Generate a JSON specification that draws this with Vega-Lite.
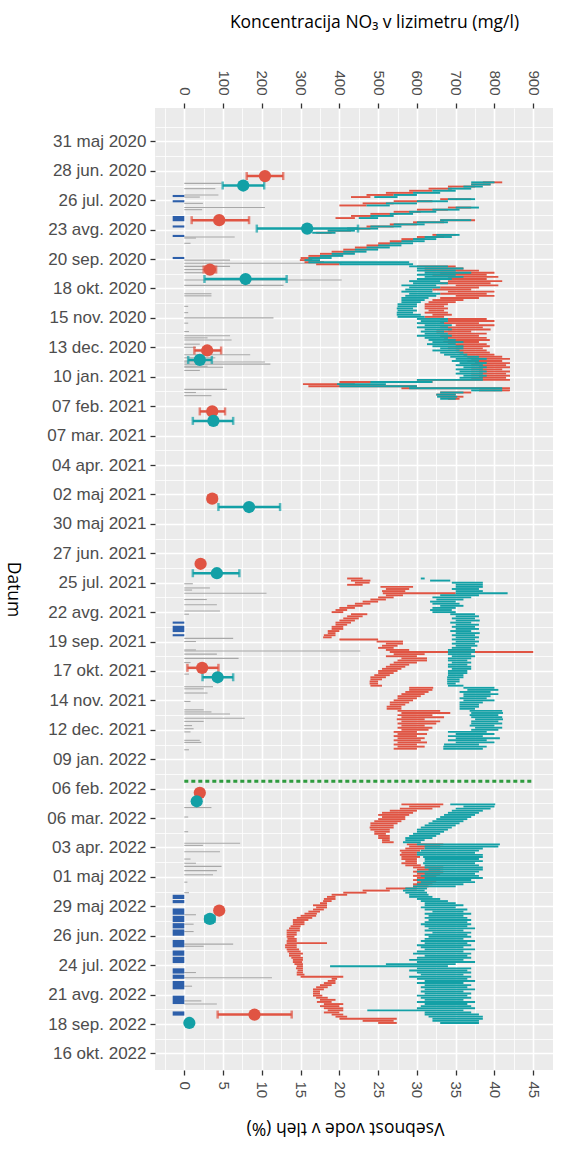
{
"$schema": "https://vega.github.io/schema/vega-lite/v6.json",
"width": 398, "height": 962,
"autosize": {"type": "none"},
"padding": {"left": 155, "top": 108, "right": 8, "bottom": 85},
"background": "#FFFFFF",
"config": {"view": {"fill": "#EBEBEB", "stroke": null}, "font": "Liberation Sans",
 "locale": {"time": {"dateTime": "%A, %e. %B %Y %X", "date": "%d.%m.%Y", "time": "%H:%M:%S", "periods": ["AM", "PM"],
  "days": ["nedelja", "ponedeljek", "torek", "sreda", "četrtek", "petek", "sobota"],
  "shortDays": ["ned.", "pon.", "tor.", "sre.", "čet.", "pet.", "sob."],
  "months": ["januar", "februar", "marec", "april", "maj", "junij", "julij", "avgust", "september", "oktober", "november", "december"],
  "shortMonths": ["jan.", "feb.", "mar.", "apr.", "maj", "jun.", "jul.", "avg.", "sep.", "okt.", "nov.", "dec."]}}},
"datasets": {
"lines": [
{"d":"2020-07-09","rl":38.5,"rh":41,"tl":37,"th":40},
{"d":"2020-07-11","rl":37,"rh":39.5,"tl":37,"th":39.5},
{"d":"2020-07-13","rl":34,"rh":37.5,"tl":36,"th":38.5},
{"d":"2020-07-15","rl":31.5,"rh":34.5,"tl":34,"th":37},
{"d":"2020-07-17","rl":29,"rh":32,"tl":32,"th":35},
{"d":"2020-07-19","rl":26,"rh":29.5,"tl":29.5,"th":33},
{"d":"2020-07-21","rl":23.5,"rh":27,"tl":27,"th":30},
{"d":"2020-07-23","rl":21.5,"rh":24,"tl":24.5,"th":27.5},
{"d":"2020-07-25","rl":33,"rh":37,"tl":34,"th":37.5},
{"d":"2020-07-27","rl":27,"rh":32,"tl":30,"th":34},
{"d":"2020-07-29","rl":23,"rh":27,"tl":26,"th":30},
{"d":"2020-07-31","rl":20,"rh":23.5,"tl":23.5,"th":26.5},
{"d":"2020-08-02","rl":34,"rh":37,"tl":35,"th":38},
{"d":"2020-08-04","rl":30,"rh":34,"tl":32,"th":35.5},
{"d":"2020-08-06","rl":27,"rh":30.5,"tl":29,"th":32.5},
{"d":"2020-08-08","rl":24,"rh":27.5,"tl":26.5,"th":29.5},
{"d":"2020-08-10","rl":21.5,"rh":24.5,"tl":24,"th":27},
{"d":"2020-08-12","rl":19.5,"rh":22,"tl":22.5,"th":25},
{"d":"2020-08-14","rl":33,"rh":37.5,"tl":33,"th":37},
{"d":"2020-08-16","rl":29.5,"rh":33.5,"tl":30,"th":34},
{"d":"2020-08-18","rl":26.5,"rh":30,"tl":27,"th":31},
{"d":"2020-08-20","rl":23.5,"rh":27,"tl":24,"th":28},
{"d":"2020-08-22","rl":21,"rh":24,"tl":21,"th":25},
{"d":"2020-08-24","rl":18.5,"rh":21.5,"tl":18.5,"th":22},
{"d":"2020-08-26","rl":17,"rh":19,"tl":16.5,"th":19.5},
{"d":"2020-08-28","rl":32,"rh":35,"tl":32.5,"th":35.5},
{"d":"2020-08-30","rl":30,"rh":33.5,"tl":31,"th":34.5},
{"d":"2020-09-01","rl":28,"rh":31,"tl":29.5,"th":32.5},
{"d":"2020-09-03","rl":26.5,"rh":29.5,"tl":28,"th":31},
{"d":"2020-09-05","rl":25,"rh":28,"tl":26.5,"th":29.5},
{"d":"2020-09-07","rl":23.5,"rh":26.5,"tl":25,"th":28},
{"d":"2020-09-09","rl":22,"rh":25,"tl":23.5,"th":26.5},
{"d":"2020-09-11","rl":20.5,"rh":23.5,"tl":22,"th":25},
{"d":"2020-09-13","rl":19,"rh":22,"tl":20.5,"th":23.5},
{"d":"2020-09-15","rl":17.5,"rh":20.5,"tl":19,"th":22},
{"d":"2020-09-17","rl":16,"rh":19,"tl":17.5,"th":20.5},
{"d":"2020-09-19","rl":15,"rh":17.5,"tl":16,"th":19},
{"d":"2020-09-21","rl":14.9,"rh":16.5,"tl":15.5,"th":17.5},
{"d":"2020-09-23","rl":15.5,"rh":18,"tl":16,"th":29},
{"d":"2020-09-25","rl":17,"rh":20,"tl":20,"th":29.5},
{"d":"2020-09-27","rl":30,"rh":35,"tl":29,"th":34},
{"d":"2020-09-29","rl":31,"rh":36,"tl":30,"th":36},
{"d":"2020-10-01","rl":31,"rh":38,"tl":30,"th":35},
{"d":"2020-10-03","rl":33,"rh":40,"tl":31,"th":37},
{"d":"2020-10-05","rl":32,"rh":39,"tl":30,"th":35},
{"d":"2020-10-07","rl":34,"rh":40.5,"tl":31,"th":36},
{"d":"2020-10-09","rl":33,"rh":39,"tl":30,"th":34.5},
{"d":"2020-10-11","rl":34,"rh":41,"tl":29,"th":33},
{"d":"2020-10-13","rl":33,"rh":39.5,"tl":29.5,"th":34},
{"d":"2020-10-15","rl":35,"rh":40.5,"tl":28,"th":32.5},
{"d":"2020-10-17","rl":33,"rh":38,"tl":29,"th":33},
{"d":"2020-10-19","rl":32,"rh":37,"tl":28.5,"th":32},
{"d":"2020-10-21","rl":34,"rh":40,"tl":28,"th":32},
{"d":"2020-10-23","rl":33,"rh":39,"tl":29,"th":33},
{"d":"2020-10-25","rl":35,"rh":40,"tl":28.5,"th":32.5},
{"d":"2020-10-27","rl":33,"rh":38,"tl":28,"th":31.5},
{"d":"2020-10-29","rl":32,"rh":36,"tl":28,"th":31},
{"d":"2020-10-31","rl":31.5,"rh":35,"tl":28,"th":30.5},
{"d":"2020-11-02","rl":31,"rh":34,"tl":27.5,"th":30},
{"d":"2020-11-04","rl":31,"rh":33.5,"tl":27.5,"th":30},
{"d":"2020-11-06","rl":31,"rh":34,"tl":27.4,"th":29.5},
{"d":"2020-11-08","rl":31.5,"rh":33.5,"tl":27.5,"th":30},
{"d":"2020-11-10","rl":31,"rh":34,"tl":27.4,"th":29.5},
{"d":"2020-11-12","rl":32,"rh":34.5,"tl":27.4,"th":30.5},
{"d":"2020-11-14","rl":31,"rh":33.5,"tl":27.5,"th":31},
{"d":"2020-11-16","rl":33,"rh":39,"tl":30,"th":34},
{"d":"2020-11-18","rl":34,"rh":40,"tl":30.5,"th":34},
{"d":"2020-11-20","rl":33,"rh":38,"tl":30,"th":33.5},
{"d":"2020-11-22","rl":35,"rh":40,"tl":31,"th":34.5},
{"d":"2020-11-24","rl":33,"rh":38.5,"tl":30,"th":34},
{"d":"2020-11-26","rl":34,"rh":39.5,"tl":31,"th":34.5},
{"d":"2020-11-28","rl":32.5,"rh":37,"tl":30.5,"th":33.5},
{"d":"2020-11-30","rl":34,"rh":39,"tl":31,"th":34},
{"d":"2020-12-02","rl":33,"rh":38,"tl":30,"th":34.5},
{"d":"2020-12-04","rl":33.5,"rh":39,"tl":31,"th":34},
{"d":"2020-12-06","rl":34,"rh":39.4,"tl":31.5,"th":35},
{"d":"2020-12-08","rl":33.4,"rh":38,"tl":32,"th":36},
{"d":"2020-12-10","rl":34,"rh":39,"tl":31.3,"th":35},
{"d":"2020-12-12","rl":35,"rh":39.4,"tl":32,"th":36},
{"d":"2020-12-14","rl":34,"rh":38.5,"tl":33,"th":36},
{"d":"2020-12-16","rl":35,"rh":39,"tl":32,"th":35.5},
{"d":"2020-12-18","rl":35.5,"rh":39.4,"tl":33,"th":36},
{"d":"2020-12-20","rl":36,"rh":40,"tl":33.5,"th":36.5},
{"d":"2020-12-22","rl":36.5,"rh":41,"tl":34.3,"th":38},
{"d":"2020-12-24","rl":37,"rh":42,"tl":35,"th":39},
{"d":"2020-12-26","rl":36.5,"rh":41,"tl":34.5,"th":38},
{"d":"2020-12-28","rl":37.5,"rh":42,"tl":35.5,"th":39},
{"d":"2020-12-30","rl":37,"rh":41.5,"tl":35,"th":38.5},
{"d":"2021-01-01","rl":38,"rh":42,"tl":36,"th":39},
{"d":"2021-01-03","rl":37,"rh":41,"tl":35,"th":38.5},
{"d":"2021-01-05","rl":38,"rh":42,"tl":35.5,"th":39},
{"d":"2021-01-07","rl":37,"rh":41.5,"tl":35,"th":38.5},
{"d":"2021-01-09","rl":38,"rh":42,"tl":36,"th":39},
{"d":"2021-01-11","rl":37,"rh":41.5,"tl":35.5,"th":38.5},
{"d":"2021-01-13","rl":30,"rh":42,"tl":30,"th":38.5},
{"d":"2021-01-15","rl":20,"rh":32,"tl":24,"th":32},
{"d":"2021-01-17","rl":15.3,"rh":22,"tl":19.7,"th":26},
{"d":"2021-01-19","rl":16,"rh":30,"tl":20,"th":30},
{"d":"2021-01-21","rl":28,"rh":42,"tl":29,"th":41},
{"d":"2021-01-23","rl":38,"rh":42,"tl":37,"th":41},
{"d":"2021-01-25","rl":33,"rh":37,"tl":33,"th":36},
{"d":"2021-01-27","rl":32.5,"rh":35,"tl":32.5,"th":35},
{"d":"2021-01-29","rl":33,"rh":36,"tl":32.6,"th":35.2},
{"d":"2021-01-31","rl":34,"rh":35.5,"tl":33,"th":35},
{"d":"2021-07-21","rl":21,"rh":23,"tl":30.5,"th":31},
{"d":"2021-07-23","rl":21.5,"rh":24,"tl":31.7,"th":34.3},
{"d":"2021-07-25","rl":22,"rh":23.9,"tl":34.5,"th":38.5},
{"d":"2021-07-27","rl":21,"rh":23,"tl":35,"th":38.5},
{"d":"2021-07-29","rl":25.3,"rh":29.5,"tl":35,"th":38.5},
{"d":"2021-07-31","rl":26,"rh":29,"tl":34.5,"th":38},
{"d":"2021-08-02","rl":25.5,"rh":28.5,"tl":35,"th":38.5},
{"d":"2021-08-04","rl":25.6,"rh":35,"tl":35,"th":41.7},
{"d":"2021-08-06","rl":26,"rh":28.2,"tl":33,"th":38},
{"d":"2021-08-08","rl":25,"rh":27,"tl":32,"th":37},
{"d":"2021-08-10","rl":24,"rh":26,"tl":32.5,"th":36},
{"d":"2021-08-12","rl":23,"rh":25,"tl":31.7,"th":35},
{"d":"2021-08-14","rl":22,"rh":24,"tl":32,"th":35.5},
{"d":"2021-08-16","rl":21,"rh":23,"tl":33,"th":36},
{"d":"2021-08-18","rl":20,"rh":22,"tl":32,"th":35},
{"d":"2021-08-20","rl":19.5,"rh":21,"tl":31.7,"th":34.5},
{"d":"2021-08-22","rl":19,"rh":20.5,"tl":32,"th":35},
{"d":"2021-08-24","rl":21.5,"rh":23.6,"tl":34.3,"th":37.5},
{"d":"2021-08-26","rl":21,"rh":23,"tl":35,"th":38},
{"d":"2021-08-28","rl":20.5,"rh":22.5,"tl":34.5,"th":37.5},
{"d":"2021-08-30","rl":20,"rh":22,"tl":35,"th":38.1},
{"d":"2021-09-01","rl":19.5,"rh":21.5,"tl":34.3,"th":37},
{"d":"2021-09-03","rl":19.5,"rh":21,"tl":35,"th":38},
{"d":"2021-09-05","rl":19,"rh":20.5,"tl":34.5,"th":37.5},
{"d":"2021-09-07","rl":19,"rh":20.5,"tl":35,"th":38},
{"d":"2021-09-09","rl":18.5,"rh":20,"tl":34.3,"th":37},
{"d":"2021-09-11","rl":18.5,"rh":19.5,"tl":35,"th":38.1},
{"d":"2021-09-13","rl":18,"rh":19.5,"tl":34.5,"th":37.5},
{"d":"2021-09-15","rl":17.9,"rh":19,"tl":35,"th":38},
{"d":"2021-09-17","rl":20,"rh":25,"tl":34.5,"th":37.5},
{"d":"2021-09-19","rl":24.8,"rh":28.2,"tl":35,"th":38},
{"d":"2021-09-21","rl":26,"rh":28.2,"tl":34.5,"th":37.5},
{"d":"2021-09-23","rl":25.5,"rh":27.5,"tl":35,"th":37.8},
{"d":"2021-09-25","rl":25,"rh":27,"tl":34.5,"th":37},
{"d":"2021-09-27","rl":26,"rh":29,"tl":34,"th":37.5},
{"d":"2021-09-29","rl":26.5,"rh":45,"tl":34,"th":37.5},
{"d":"2021-10-01","rl":27,"rh":31,"tl":34,"th":37},
{"d":"2021-10-03","rl":26,"rh":30,"tl":34.5,"th":37.5},
{"d":"2021-10-05","rl":28,"rh":31.3,"tl":34,"th":37},
{"d":"2021-10-07","rl":27.5,"rh":31.3,"tl":34,"th":36.5},
{"d":"2021-10-09","rl":27,"rh":30,"tl":34.5,"th":37},
{"d":"2021-10-11","rl":26.5,"rh":29,"tl":34,"th":36.5},
{"d":"2021-10-13","rl":26,"rh":28.5,"tl":34,"th":37},
{"d":"2021-10-15","rl":25.5,"rh":28,"tl":34.5,"th":37},
{"d":"2021-10-17","rl":25,"rh":27.5,"tl":34,"th":36.5},
{"d":"2021-10-19","rl":25,"rh":27,"tl":34,"th":36.5},
{"d":"2021-10-21","rl":24.5,"rh":26.5,"tl":34,"th":36},
{"d":"2021-10-23","rl":24,"rh":26,"tl":33.9,"th":36},
{"d":"2021-10-25","rl":24,"rh":25.5,"tl":33.9,"th":35.5},
{"d":"2021-10-27","rl":23.9,"rh":25,"tl":33.9,"th":35.5},
{"d":"2021-10-29","rl":23.9,"rh":25,"tl":33.9,"th":35},
{"d":"2021-10-31","rl":24,"rh":25.5,"tl":34,"th":36},
{"d":"2021-11-02","rl":29,"rh":32.1,"tl":36,"th":40},
{"d":"2021-11-04","rl":29,"rh":32,"tl":36.5,"th":40.5},
{"d":"2021-11-06","rl":28.5,"rh":31.5,"tl":35.5,"th":39.5},
{"d":"2021-11-08","rl":28,"rh":31,"tl":36,"th":40.5},
{"d":"2021-11-10","rl":27.5,"rh":30.5,"tl":36,"th":39.5},
{"d":"2021-11-12","rl":27.5,"rh":30,"tl":35.5,"th":39},
{"d":"2021-11-14","rl":27,"rh":29.5,"tl":36,"th":40},
{"d":"2021-11-16","rl":26.5,"rh":29,"tl":35.5,"th":38.5},
{"d":"2021-11-18","rl":26.5,"rh":28.5,"tl":35.5,"th":38},
{"d":"2021-11-20","rl":26.1,"rh":28,"tl":35.5,"th":38},
{"d":"2021-11-22","rl":26.1,"rh":28,"tl":35.5,"th":37.5},
{"d":"2021-11-24","rl":27.5,"rh":33,"tl":36.8,"th":41},
{"d":"2021-11-26","rl":28,"rh":34.3,"tl":37,"th":41.1},
{"d":"2021-11-28","rl":27.5,"rh":32,"tl":36.8,"th":40.5},
{"d":"2021-11-30","rl":28,"rh":33.5,"tl":37,"th":41},
{"d":"2021-12-02","rl":27.4,"rh":31,"tl":37.5,"th":41.1},
{"d":"2021-12-04","rl":28,"rh":33,"tl":37,"th":40.5},
{"d":"2021-12-06","rl":27.5,"rh":32.5,"tl":37,"th":41},
{"d":"2021-12-08","rl":28,"rh":31,"tl":36.8,"th":40},
{"d":"2021-12-10","rl":27.5,"rh":32,"tl":37.5,"th":41},
{"d":"2021-12-12","rl":28,"rh":31.5,"tl":37,"th":40.5},
{"d":"2021-12-14","rl":27,"rh":30,"tl":34,"th":39},
{"d":"2021-12-16","rl":27.5,"rh":31.3,"tl":35,"th":40},
{"d":"2021-12-18","rl":27,"rh":30,"tl":34,"th":38.5},
{"d":"2021-12-20","rl":27.5,"rh":31,"tl":35,"th":40.7},
{"d":"2021-12-22","rl":27,"rh":30.5,"tl":34,"th":39},
{"d":"2021-12-24","rl":27.5,"rh":31.3,"tl":35,"th":40},
{"d":"2021-12-26","rl":27,"rh":30,"tl":33.5,"th":38},
{"d":"2021-12-28","rl":27.5,"rh":31,"tl":33.4,"th":39},
{"d":"2021-12-30","rl":27,"rh":30,"tl":33.4,"th":38.5},
{"d":"2022-02-21","rl":28,"rh":33.4,"tl":34.3,"th":40.1},
{"d":"2022-02-23","rl":29,"rh":33,"tl":36,"th":40},
{"d":"2022-02-25","rl":27.8,"rh":32,"tl":35,"th":39.5},
{"d":"2022-02-27","rl":26.5,"rh":30,"tl":34.5,"th":38.5},
{"d":"2022-03-01","rl":25.5,"rh":29.5,"tl":34,"th":38},
{"d":"2022-03-03","rl":25,"rh":29,"tl":33.5,"th":37.5},
{"d":"2022-03-05","rl":25.5,"rh":28.5,"tl":33,"th":37},
{"d":"2022-03-07","rl":25,"rh":28.5,"tl":32.5,"th":36.5},
{"d":"2022-03-09","rl":24.5,"rh":28,"tl":32,"th":36},
{"d":"2022-03-11","rl":24,"rh":27.5,"tl":31.5,"th":35.5},
{"d":"2022-03-13","rl":24,"rh":27,"tl":31,"th":35},
{"d":"2022-03-15","rl":23.9,"rh":27,"tl":30.5,"th":34.5},
{"d":"2022-03-17","rl":24,"rh":26.5,"tl":30,"th":34},
{"d":"2022-03-19","rl":24.5,"rh":26.5,"tl":30,"th":33.5},
{"d":"2022-03-21","rl":24.5,"rh":26,"tl":29.5,"th":33},
{"d":"2022-03-23","rl":25,"rh":26.5,"tl":29,"th":32.5},
{"d":"2022-03-25","rl":25,"rh":26.5,"tl":28.5,"th":32},
{"d":"2022-03-27","rl":25.5,"rh":26.5,"tl":28.5,"th":31},
{"d":"2022-03-29","rl":25.5,"rh":27,"tl":28.2,"th":30.5},
{"d":"2022-03-31","rl":28.7,"rh":33.4,"tl":30,"th":40.7},
{"d":"2022-04-02","rl":29,"rh":33,"tl":31,"th":40.5},
{"d":"2022-04-04","rl":28.5,"rh":31,"tl":31,"th":38.5},
{"d":"2022-04-06","rl":27.8,"rh":30.4,"tl":30.5,"th":38},
{"d":"2022-04-08","rl":28,"rh":30,"tl":30,"th":37.5},
{"d":"2022-04-10","rl":27.8,"rh":30,"tl":30,"th":38.5},
{"d":"2022-04-12","rl":28,"rh":30.4,"tl":30.8,"th":38.5},
{"d":"2022-04-14","rl":28,"rh":30,"tl":31,"th":38},
{"d":"2022-04-16","rl":28.5,"rh":30,"tl":31,"th":38.5},
{"d":"2022-04-18","rl":28,"rh":30,"tl":30.8,"th":37.5},
{"d":"2022-04-20","rl":28.5,"rh":30.5,"tl":31,"th":38},
{"d":"2022-04-22","rl":29.5,"rh":33.4,"tl":31,"th":38.5},
{"d":"2022-04-24","rl":30,"rh":33,"tl":31.5,"th":38.5},
{"d":"2022-04-26","rl":29.5,"rh":33.4,"tl":30,"th":38},
{"d":"2022-04-28","rl":30,"rh":33,"tl":31,"th":37.5},
{"d":"2022-04-30","rl":29.5,"rh":32.5,"tl":30.5,"th":38},
{"d":"2022-05-02","rl":30,"rh":33.4,"tl":31,"th":38.5},
{"d":"2022-05-04","rl":29.5,"rh":33,"tl":30,"th":37},
{"d":"2022-05-06","rl":30,"rh":32.5,"tl":30.5,"th":37.5},
{"d":"2022-05-08","rl":29.5,"rh":32,"tl":30,"th":36},
{"d":"2022-05-10","rl":29.5,"rh":31.5,"tl":29.5,"th":35},
{"d":"2022-05-12","rl":26,"rh":30,"tl":28.5,"th":31.3},
{"d":"2022-05-14","rl":23,"rh":26.5,"tl":28.2,"th":31},
{"d":"2022-05-16","rl":20.5,"rh":23.5,"tl":28.5,"th":31.3},
{"d":"2022-05-18","rl":19,"rh":21,"tl":29,"th":31.5},
{"d":"2022-05-20","rl":18.4,"rh":19.5,"tl":29,"th":32},
{"d":"2022-05-22","rl":18,"rh":19.5,"tl":30,"th":33},
{"d":"2022-05-24","rl":17.9,"rh":19,"tl":30.5,"th":34},
{"d":"2022-05-26","rl":17.5,"rh":18.4,"tl":31,"th":35},
{"d":"2022-05-28","rl":16.6,"rh":18.4,"tl":31,"th":36},
{"d":"2022-05-30","rl":17,"rh":18.4,"tl":30.5,"th":35},
{"d":"2022-06-01","rl":16.6,"rh":18,"tl":31,"th":36.5},
{"d":"2022-06-03","rl":16,"rh":17.5,"tl":32,"th":36},
{"d":"2022-06-05","rl":15.5,"rh":17.1,"tl":31,"th":37},
{"d":"2022-06-07","rl":15,"rh":17,"tl":31.5,"th":36},
{"d":"2022-06-09","rl":14.5,"rh":16.5,"tl":31,"th":36.5},
{"d":"2022-06-11","rl":14,"rh":16,"tl":31.5,"th":37},
{"d":"2022-06-13","rl":14,"rh":15.5,"tl":31,"th":36.5},
{"d":"2022-06-15","rl":14,"rh":15.5,"tl":30.5,"th":37},
{"d":"2022-06-17","rl":13.7,"rh":15,"tl":31,"th":36.5},
{"d":"2022-06-19","rl":13.5,"rh":14.9,"tl":31.5,"th":37.5},
{"d":"2022-06-21","rl":13.2,"rh":14.9,"tl":31,"th":36},
{"d":"2022-06-23","rl":13.2,"rh":14.5,"tl":32,"th":37},
{"d":"2022-06-25","rl":13.2,"rh":14.5,"tl":31,"th":36.5},
{"d":"2022-06-27","rl":13.2,"rh":14.2,"tl":31.5,"th":37},
{"d":"2022-06-29","rl":13.3,"rh":14.5,"tl":31,"th":36},
{"d":"2022-07-01","rl":13.2,"rh":14.5,"tl":30.5,"th":37.5},
{"d":"2022-07-03","rl":13.2,"rh":18.4,"tl":31,"th":36.5},
{"d":"2022-07-05","rl":13,"rh":14.5,"tl":30,"th":37},
{"d":"2022-07-07","rl":13,"rh":14.5,"tl":30.5,"th":36},
{"d":"2022-07-09","rl":13.2,"rh":14.8,"tl":31,"th":37.5},
{"d":"2022-07-11","rl":13.3,"rh":15,"tl":30,"th":36},
{"d":"2022-07-13","rl":13.5,"rh":15.3,"tl":29.5,"th":37},
{"d":"2022-07-15","rl":13.5,"rh":15,"tl":31,"th":36.5},
{"d":"2022-07-17","rl":13.8,"rh":15.3,"tl":30,"th":37},
{"d":"2022-07-19","rl":14,"rh":15.3,"tl":29,"th":36},
{"d":"2022-07-21","rl":14,"rh":15.2,"tl":30,"th":37.5},
{"d":"2022-07-23","rl":14.2,"rh":15.3,"tl":26,"th":35},
{"d":"2022-07-25","rl":14.5,"rh":15.3,"tl":18.8,"th":34},
{"d":"2022-07-27","rl":14.4,"rh":15.3,"tl":30,"th":37},
{"d":"2022-07-29","rl":14.6,"rh":15.3,"tl":29,"th":36.5},
{"d":"2022-07-31","rl":14.5,"rh":15.3,"tl":30,"th":37},
{"d":"2022-08-02","rl":14.5,"rh":15.5,"tl":30.5,"th":36},
{"d":"2022-08-04","rl":15,"rh":20.5,"tl":29,"th":37},
{"d":"2022-08-06","rl":19,"rh":19.7,"tl":30,"th":36.5},
{"d":"2022-08-08","rl":18.5,"rh":19.5,"tl":31,"th":37.5},
{"d":"2022-08-10","rl":18,"rh":19.5,"tl":30,"th":36},
{"d":"2022-08-12","rl":17.5,"rh":19,"tl":31,"th":37},
{"d":"2022-08-14","rl":17,"rh":18.5,"tl":30.5,"th":36.5},
{"d":"2022-08-16","rl":16.6,"rh":18,"tl":31,"th":37.5},
{"d":"2022-08-18","rl":16.6,"rh":17.5,"tl":30.5,"th":36},
{"d":"2022-08-20","rl":16.6,"rh":17.5,"tl":31,"th":37},
{"d":"2022-08-22","rl":16.6,"rh":17.8,"tl":30,"th":36.5},
{"d":"2022-08-24","rl":17,"rh":18.5,"tl":30.5,"th":37},
{"d":"2022-08-26","rl":17.5,"rh":19.5,"tl":31,"th":36},
{"d":"2022-08-28","rl":17.1,"rh":19,"tl":30,"th":37.5},
{"d":"2022-08-30","rl":18,"rh":20.5,"tl":31,"th":36.5},
{"d":"2022-09-01","rl":17.5,"rh":20,"tl":30.5,"th":37},
{"d":"2022-09-03","rl":18,"rh":20.5,"tl":30,"th":37.5},
{"d":"2022-09-05","rl":18.5,"rh":20.5,"tl":23.6,"th":36},
{"d":"2022-09-07","rl":18,"rh":20,"tl":31,"th":37},
{"d":"2022-09-09","rl":19,"rh":20.5,"tl":31,"th":38},
{"d":"2022-09-11","rl":19.5,"rh":21,"tl":31.5,"th":38.5},
{"d":"2022-09-13","rl":20,"rh":27.4,"tl":32,"th":38.5},
{"d":"2022-09-15","rl":23,"rh":27,"tl":32,"th":38},
{"d":"2022-09-17","rl":25,"rh":27.4,"tl":33,"th":38}
],
"rain": [
{"d":"2020-07-10","p":4.8},{"d":"2020-07-15","p":4.0},{"d":"2020-07-21","p":4.4},{"d":"2020-07-23","p":2.0},{"d":"2020-07-29","p":2.4},
{"d":"2020-08-02","p":10.4},{"d":"2020-08-04","p":2.3},{"d":"2020-08-30","p":6.5},{"d":"2020-08-31","p":1.5},{"d":"2020-09-05","p":0.8},
{"d":"2020-09-21","p":5.9},{"d":"2020-09-24","p":20.3},{"d":"2020-09-27","p":5.9},{"d":"2020-09-30","p":2.9},{"d":"2020-10-03","p":2.4},
{"d":"2020-10-10","p":20.3},{"d":"2020-10-15","p":12.8},{"d":"2020-10-23","p":3.5},{"d":"2020-10-25","p":3.5},{"d":"2020-11-04","p":0.5},
{"d":"2020-11-10","p":0.5},{"d":"2020-11-15","p":11.5},{"d":"2020-11-20","p":0.5},{"d":"2020-11-28","p":0.6},{"d":"2020-12-02","p":5.9},
{"d":"2020-12-04","p":3},{"d":"2020-12-06","p":6.1},{"d":"2020-12-10","p":2},{"d":"2020-12-13","p":1.5},{"d":"2020-12-20","p":8.5},
{"d":"2020-12-23","p":4},{"d":"2020-12-26","p":2.5},{"d":"2020-12-27","p":10.4},{"d":"2020-12-29","p":11.1},{"d":"2020-12-31","p":3},
{"d":"2021-01-01","p":5},{"d":"2021-01-04","p":2},{"d":"2021-01-22","p":5.5},{"d":"2021-01-25","p":1.5},{"d":"2021-01-28","p":3.5},
{"d":"2021-07-26","p":1.1},{"d":"2021-07-30","p":3.3},{"d":"2021-08-01","p":1.0},{"d":"2021-08-04","p":10.6},{"d":"2021-08-10","p":2.9},
{"d":"2021-08-15","p":4.2},{"d":"2021-08-21","p":4.6},{"d":"2021-08-24","p":0.6},{"d":"2021-09-16","p":6.3},{"d":"2021-09-19","p":1.5},
{"d":"2021-09-27","p":1.5},{"d":"2021-09-28","p":22.7},{"d":"2021-10-01","p":4.2},{"d":"2021-10-05","p":7.0},{"d":"2021-10-09","p":0.8},
{"d":"2021-10-20","p":0.6},{"d":"2021-11-01","p":3.7},{"d":"2021-11-03","p":2.5},{"d":"2021-11-07","p":3.0},{"d":"2021-11-15","p":0.8},
{"d":"2021-11-23","p":2.5},{"d":"2021-11-25","p":3.5},{"d":"2021-11-27","p":5.9},{"d":"2021-12-01","p":7.8},{"d":"2021-12-04","p":2.5},
{"d":"2021-12-08","p":1},{"d":"2021-12-11","p":1.2},{"d":"2021-12-14","p":0.8},{"d":"2021-12-22","p":2},{"d":"2021-12-24","p":2.2},
{"d":"2021-12-31","p":0.6},
{"d":"2022-02-24","p":3.5},{"d":"2022-03-05","p":0.5},{"d":"2022-03-19","p":0.5},{"d":"2022-03-30","p":7.2},{"d":"2022-04-01","p":2.4},
{"d":"2022-04-07","p":4.6},{"d":"2022-04-14","p":0.8},{"d":"2022-04-18","p":1.5},{"d":"2022-04-21","p":4.8},{"d":"2022-04-25","p":4.2},
{"d":"2022-04-29","p":3.7},{"d":"2022-05-06","p":0.4},{"d":"2022-05-16","p":0.6},{"d":"2022-06-06","p":1.5},{"d":"2022-06-15","p":1.2},
{"d":"2022-06-22","p":1.2},{"d":"2022-07-04","p":6.3},{"d":"2022-07-06","p":2.5},{"d":"2022-07-31","p":1.5},{"d":"2022-08-05","p":11.3},
{"d":"2022-08-13","p":1.0},{"d":"2022-08-27","p":2.2},{"d":"2022-08-30","p":4.2}
],
"irr": [
{"d":"2020-07-21","e":"2020-07-23"},{"d":"2020-07-26","e":"2020-07-28"},{"d":"2020-08-10","e":"2020-08-15"},
{"d":"2020-08-19","e":"2020-08-21"},{"d":"2020-08-28","e":"2020-08-30"},{"d":"2020-09-18","e":"2020-09-20"},
{"d":"2021-08-31","e":"2021-09-02"},{"d":"2021-09-04","e":"2021-09-10"},{"d":"2021-09-12","e":"2021-09-14"},
{"d":"2022-05-18","e":"2022-05-22"},{"d":"2022-05-23","e":"2022-05-26"},{"d":"2022-05-31","e":"2022-06-06"},
{"d":"2022-06-07","e":"2022-06-13"},{"d":"2022-06-14","e":"2022-06-19"},{"d":"2022-06-20","e":"2022-06-26"},
{"d":"2022-06-30","e":"2022-07-07"},{"d":"2022-07-10","e":"2022-07-15"},{"d":"2022-07-16","e":"2022-07-22"},
{"d":"2022-07-27","e":"2022-08-01"},{"d":"2022-08-02","e":"2022-08-06"},{"d":"2022-08-08","e":"2022-08-16"},
{"d":"2022-08-22","e":"2022-08-30"},{"d":"2022-09-06","e":"2022-09-10"}
],
"event": [{"d":"2022-01-30"}],
"no3": [
{"d":"2020-07-03","s":"R","c":208,"lo":161,"hi":255},
{"d":"2020-07-12","s":"T","c":152,"lo":99,"hi":206},
{"d":"2020-08-14","s":"R","c":90,"lo":19,"hi":167},
{"d":"2020-08-22","s":"T","c":317,"lo":187,"hi":448},
{"d":"2020-09-30","s":"R","c":66,"lo":50,"hi":82},
{"d":"2020-10-09","s":"T","c":158,"lo":52,"hi":264},
{"d":"2020-12-16","s":"R","c":59,"lo":26,"hi":95},
{"d":"2020-12-25","s":"T","c":40,"lo":10,"hi":71},
{"d":"2021-02-12","s":"R","c":72,"lo":40,"hi":105},
{"d":"2021-02-21","s":"T","c":75,"lo":22,"hi":126},
{"d":"2021-05-06","s":"R","c":72,"lo":62,"hi":82},
{"d":"2021-05-14","s":"T","c":167,"lo":88,"hi":247},
{"d":"2021-07-07","s":"R","c":42,"lo":36,"hi":48},
{"d":"2021-07-16","s":"T","c":84,"lo":22,"hi":142},
{"d":"2021-10-14","s":"R","c":46,"lo":8,"hi":88},
{"d":"2021-10-23","s":"T","c":86,"lo":47,"hi":126},
{"d":"2022-02-10","s":"R","c":40,"lo":34,"hi":46},
{"d":"2022-02-18","s":"T","c":32,"lo":26,"hi":38},
{"d":"2022-06-02","s":"R","c":90,"lo":84,"hi":96},
{"d":"2022-06-10","s":"T","c":66,"lo":54,"hi":78},
{"d":"2022-09-09","s":"R","c":181,"lo":86,"hi":277},
{"d":"2022-09-17","s":"T","c":13,"lo":8,"hi":18}
]
},
"layer": [
{
"layer": [
 {"data": {"name": "rain"},
  "mark": {"type": "bar", "orient": "horizontal", "size": 1.1, "color": "#A8A8A8"},
  "encoding": {
   "y": {"field": "d", "type": "temporal", "title": "Datum",
    "scale": {"type": "utc", "domain": [{"year": 2020, "month": 5, "date": 4, "utc": true}, {"year": 2022, "month": 10, "date": 27, "utc": true}], "reverse": true, "nice": false},
    "axis": {"orient": "left", "tickCount": 200,
     "values": [1590883200000,1593302400000,1595721600000,1598140800000,1600560000000,1602979200000,1605398400000,1607817600000,1610236800000,1612656000000,1615075200000,1617494400000,1619913600000,1622332800000,1624752000000,1627171200000,1629590400000,1632009600000,1634428800000,1636848000000,1639267200000,1641686400000,1644105600000,1646524800000,1648944000000,1651363200000,1653782400000,1656201600000,1658620800000,1661040000000,1663459200000,1665878400000],
     "format": "%d %b %Y",
     "labelOverlap": false,
     "labelFont": "Liberation Sans", "labelFontSize": 17, "labelColor": "#4D4D4D", "labelPadding": 4,
     "tickSize": 5, "tickWidth": 1.3, "tickColor": "#333333",
     "domain": false, "grid": true, "gridColor": "#FFFFFF", "gridWidth": 1.6,
     "titleFont": "Open Sans", "titleFontSize": 17.5, "titleFontWeight": "normal", "titleColor": "#000000",
     "titleAngle": 90, "titleX": -143, "titleY": 481, "titleAlign": "center", "titleBaseline": "middle"
    }},
   "x": {"field": "p", "type": "quantitative", "title": "Vsebnost vode v tleh (%)",
    "scale": {"domain": [-3.78, 47.55], "nice": false, "zero": false},
    "axis": {"orient": "bottom", "tickCount": 200,
     "values": [0,5,10,15,20,25,30,35,40,45], "format": "d",
     "labelOverlap": false,
     "labelAngle": 90, "labelAlign": "left", "labelBaseline": "middle",
     "labelFont": "Liberation Sans", "labelFontSize": 15, "labelColor": "#4D4D4D", "labelPadding": 6,
     "tickSize": 5, "tickWidth": 1.3, "tickColor": "#333333",
     "domain": false, "grid": true, "gridColor": "#FFFFFF", "gridWidth": 1.6,
     "titleFont": "Open Sans", "titleFontSize": 17.5, "titleFontWeight": "normal", "titleColor": "#000000",
     "titleAngle": 180, "titleX": 190, "titleY": 57, "titleAlign": "center", "titleBaseline": "middle"}}
  }},
 {"data": {"name": "irr"},
  "mark": {"type": "rect", "color": "#2D5FAA"},
  "encoding": {
   "y": {"field": "d", "type": "temporal", "title": "Datum", "scale": {"type": "utc", "domain": [{"year": 2020, "month": 5, "date": 4, "utc": true}, {"year": 2022, "month": 10, "date": 27, "utc": true}], "reverse": true, "nice": false}},
   "y2": {"field": "e"},
   "x": {"datum": -1.5, "type": "quantitative", "title": "Vsebnost vode v tleh (%)", "scale": {"domain": [-3.78, 47.55], "nice": false, "zero": false}},
   "x2": {"datum": 0}
  }},
 {"data": {"name": "lines"},
  "mark": {"type": "rule", "color": "#E05443", "strokeWidth": 1.9},
  "encoding": {
   "y": {"field": "d", "type": "temporal", "title": "Datum", "scale": {"type": "utc", "domain": [{"year": 2020, "month": 5, "date": 4, "utc": true}, {"year": 2022, "month": 10, "date": 27, "utc": true}], "reverse": true, "nice": false}},
   "x": {"field": "rl", "type": "quantitative", "title": "Vsebnost vode v tleh (%)", "scale": {"domain": [-3.78, 47.55], "nice": false, "zero": false}},
   "x2": {"field": "rh"}
  }},
 {"data": {"name": "lines"},
  "mark": {"type": "rule", "color": "#13A0A6", "strokeWidth": 1.9},
  "encoding": {
   "y": {"field": "d", "type": "temporal", "title": "Datum", "scale": {"type": "utc", "domain": [{"year": 2020, "month": 5, "date": 4, "utc": true}, {"year": 2022, "month": 10, "date": 27, "utc": true}], "reverse": true, "nice": false}},
   "x": {"field": "tl", "type": "quantitative", "title": "Vsebnost vode v tleh (%)", "scale": {"domain": [-3.78, 47.55], "nice": false, "zero": false}},
   "x2": {"field": "th"}
  }},
 {"data": {"name": "event"},
  "mark": {"type": "rule", "color": "#2E9B3E", "strokeWidth": 3, "strokeDash": [4, 3]},
  "encoding": {
   "y": {"field": "d", "type": "temporal", "title": "Datum", "scale": {"type": "utc", "domain": [{"year": 2020, "month": 5, "date": 4, "utc": true}, {"year": 2022, "month": 10, "date": 27, "utc": true}], "reverse": true, "nice": false}},
   "x": {"datum": 0, "type": "quantitative", "title": "Vsebnost vode v tleh (%)", "scale": {"domain": [-3.78, 47.55], "nice": false, "zero": false}},
   "x2": {"datum": 45}
  }}
]
},
{
"data": {"name": "no3"},
"layer": [
 {"mark": {"type": "rule", "strokeWidth": 2.5},
  "encoding": {
   "y": {"field": "d", "type": "temporal", "title": null,
    "scale": {"type": "utc", "domain": [{"year": 2020, "month": 5, "date": 4, "utc": true}, {"year": 2022, "month": 10, "date": 27, "utc": true}], "reverse": true, "nice": false},
    "axis": {"orient": "right", "tickCount": 200,
     "values": [1589673600000,1592092800000,1594512000000,1596931200000,1599350400000,1601769600000,1604188800000,1606608000000,1609027200000,1611446400000,1613865600000,1616284800000,1618704000000,1621123200000,1623542400000,1625961600000,1628380800000,1630800000000,1633219200000,1635638400000,1638057600000,1640476800000,1642896000000,1645315200000,1647734400000,1650153600000,1652572800000,1654992000000,1657411200000,1659830400000,1662249600000,1664668800000],
     "labels": false, "ticks": false, "domain": false, "grid": true, "gridColor": "#FFFFFF", "gridWidth": 0.8, "title": null}},
   "x": {"field": "lo", "type": "quantitative", "title": "Koncentracija NO₃ v lizimetru (mg/l)",
    "scale": {"domain": [-75.6, 951], "nice": false, "zero": false},
    "axis": {"orient": "top", "tickCount": 200, "values": [0,100,200,300,400,500,600,700,800,900], "format": "d",
     "labelOverlap": false,
     "labelAngle": 90, "labelAlign": "right", "labelBaseline": "middle",
     "labelFont": "Liberation Sans", "labelFontSize": 15, "labelColor": "#4D4D4D", "labelPadding": 8,
     "tickSize": 5, "tickWidth": 1.3, "tickColor": "#333333", "domain": false, "grid": false,
     "titleFont": "Open Sans", "titleFontSize": 17.5, "titleFontWeight": "normal", "titleColor": "#000000",
     "titleAngle": 0, "titleX": 219, "titleY": -86, "titleAlign": "center", "titleBaseline": "middle"}},
   "x2": {"field": "hi"},
   "color": {"field": "s", "type": "nominal", "scale": {"domain": ["R", "T"], "range": ["#E05443", "#13A0A6"]}, "legend": null}
  }},
 {"mark": {"type": "tick", "orient": "vertical", "size": 8, "thickness": 2.5},
  "encoding": {
   "y": {"field": "d", "type": "temporal", "title": null, "scale": {"type": "utc", "domain": [{"year": 2020, "month": 5, "date": 4, "utc": true}, {"year": 2022, "month": 10, "date": 27, "utc": true}], "reverse": true, "nice": false}},
   "x": {"field": "lo", "type": "quantitative", "title": "Koncentracija NO₃ v lizimetru (mg/l)", "scale": {"domain": [-75.6, 951], "nice": false, "zero": false}},
   "color": {"field": "s", "type": "nominal", "scale": {"domain": ["R", "T"], "range": ["#E05443", "#13A0A6"]}, "legend": null}
  }},
 {"mark": {"type": "tick", "orient": "vertical", "size": 8, "thickness": 2.5},
  "encoding": {
   "y": {"field": "d", "type": "temporal", "title": null, "scale": {"type": "utc", "domain": [{"year": 2020, "month": 5, "date": 4, "utc": true}, {"year": 2022, "month": 10, "date": 27, "utc": true}], "reverse": true, "nice": false}},
   "x": {"field": "hi", "type": "quantitative", "title": "Koncentracija NO₃ v lizimetru (mg/l)", "scale": {"domain": [-75.6, 951], "nice": false, "zero": false}},
   "color": {"field": "s", "type": "nominal", "scale": {"domain": ["R", "T"], "range": ["#E05443", "#13A0A6"]}, "legend": null}
  }},
 {"mark": {"type": "circle", "size": 150, "opacity": 1},
  "encoding": {
   "y": {"field": "d", "type": "temporal", "title": null, "scale": {"type": "utc", "domain": [{"year": 2020, "month": 5, "date": 4, "utc": true}, {"year": 2022, "month": 10, "date": 27, "utc": true}], "reverse": true, "nice": false}},
   "x": {"field": "c", "type": "quantitative", "title": "Koncentracija NO₃ v lizimetru (mg/l)", "scale": {"domain": [-75.6, 951], "nice": false, "zero": false}},
   "color": {"field": "s", "type": "nominal", "scale": {"domain": ["R", "T"], "range": ["#E05443", "#13A0A6"]}, "legend": null}
  }}
]
},
{
"data": {"name": "event"},
"mark": {"type": "rule", "strokeOpacity": 0},
"encoding": {
 "y": {"field": "d", "type": "temporal", "title": null, "axis": null, "scale": {"type": "utc", "domain": [{"year": 2020, "month": 5, "date": 4, "utc": true}, {"year": 2022, "month": 10, "date": 27, "utc": true}], "reverse": true, "nice": false}},
 "x": {"datum": 0, "type": "quantitative", "title": null,
  "scale": {"domain": [-3.78, 47.55], "nice": false, "zero": false},
  "axis": {"orient": "bottom", "tickCount": 200, "values": [-2.5,2.5,7.5,12.5,17.5,22.5,27.5,32.5,37.5,42.5,47.5],
   "labels": false, "ticks": false, "domain": false, "grid": true, "gridColor": "#FFFFFF", "gridWidth": 0.8, "title": null}},
 "x2": {"datum": 0}
}
}
],
"resolve": {"scale": {"x": "independent"}, "axis": {"y": "independent"}}
}
